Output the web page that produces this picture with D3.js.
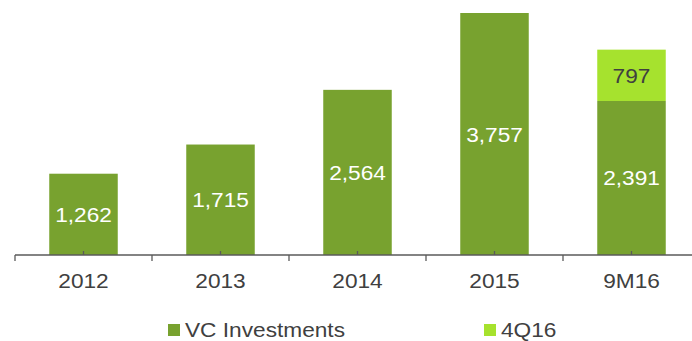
<!DOCTYPE html>
<html>
<head>
<meta charset="utf-8">
<script src="https://cdn.jsdelivr.net/npm/d3@7"></script>
<style>
  html, body { margin: 0; padding: 0; background: #fff; }
  svg { display: block; font-family: "Liberation Sans", Arial, sans-serif; }
</style>
</head>
<body>
<svg id="chart" width="692" height="341"></svg>
<script>
// Annual VC investments, with the 4Q16 estimate stacked on top of 9M16
const categories = ["2012", "2013", "2014", "2015", "9M16"];
const vcInvestments = [1262, 1715, 2564, 3757, 2391];
const q4Values = [0, 0, 0, 0, 797];
const seriesNames = ["VC Investments", "4Q16"];
const seriesColors = ["#78A22F", "#A6E22E"];
const labelColors = ["#ffffff", "#404040"];

const svg = d3.select("#chart");
const textStretch = 1.08;

const x = d3.scaleBand()
  .domain(categories)
  .range([15, 700])
  .paddingInner(0.5)
  .paddingOuter(0.25);

const y = d3.scaleLinear()
  .domain([0, 3757])
  .range([255, 13]);

const rows = categories.map((c, i) => ({ cat: c, values: [vcInvestments[i], q4Values[i]] }));
const stack = d3.stack()
  .keys([0, 1])
  .value((d, k) => d.values[k]);
const layers = stack(rows);

const fmt = d3.format(",");

layers.forEach((layer, k) => {
  const g = svg.append("g");
  const segs = layer.filter(d => d[1] - d[0] > 0);
  g.selectAll("rect")
    .data(segs)
    .join("rect")
    .attr("x", d => x(d.data.cat))
    .attr("width", x.bandwidth())
    .attr("y", d => y(d[1]))
    .attr("height", d => y(d[0]) - y(d[1]))
    .attr("fill", seriesColors[k]);

  g.selectAll("text")
    .data(segs)
    .join("text")
    .attr("transform", d => `translate(${x(d.data.cat) + x.bandwidth() / 2},${(y(d[0]) + y(d[1])) / 2 + 7.5}) scale(${textStretch},1)`)
    .attr("text-anchor", "middle")
    .attr("font-size", 21)
    .attr("fill", labelColors[k])
    .text(d => fmt(d[1] - d[0]));
});

// Category axis: boundary ticks below, centre ticks above
const axisColor = "#5a5a5a";
const axisG = svg.append("g");
axisG.append("line")
  .attr("x1", 15).attr("x2", 692)
  .attr("y1", y(0)).attr("y2", y(0))
  .attr("stroke", axisColor).attr("stroke-width", 1.3);

axisG.selectAll("line.bound")
  .data(categories)
  .join("line")
  .attr("class", "bound")
  .attr("x1", d => x(d) - x.step() * x.paddingInner() / 2)
  .attr("x2", d => x(d) - x.step() * x.paddingInner() / 2)
  .attr("y1", y(0)).attr("y2", y(0) + 6)
  .attr("stroke", axisColor).attr("stroke-width", 1.3);

axisG.selectAll("line.mid")
  .data(categories)
  .join("line")
  .attr("class", "mid")
  .attr("x1", d => x(d) + x.bandwidth() / 2)
  .attr("x2", d => x(d) + x.bandwidth() / 2)
  .attr("y1", y(0)).attr("y2", y(0) - 4)
  .attr("stroke", axisColor).attr("stroke-width", 1.3);

axisG.selectAll("text")
  .data(categories)
  .join("text")
  .attr("transform", d => `translate(${x(d) + x.bandwidth() / 2},288) scale(${textStretch},1)`)
  .attr("text-anchor", "middle")
  .attr("font-size", 21)
  .attr("fill", "#404040")
  .text(d => d);

// Legend
const legendX = [168, 484];
const legend = svg.append("g");
seriesNames.forEach((name, i) => {
  legend.append("rect")
    .attr("x", legendX[i]).attr("y", 324)
    .attr("width", 12).attr("height", 12)
    .attr("fill", seriesColors[i]);
  legend.append("text")
    .attr("transform", `translate(${legendX[i] + 17},336.5) scale(${textStretch},1)`)
    .attr("font-size", 21)
    .attr("fill", "#404040")
    .text(name);
});
</script>
</body>
</html>
